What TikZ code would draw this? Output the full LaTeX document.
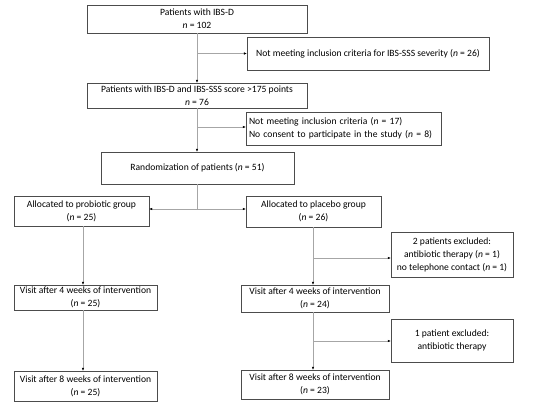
\documentclass[tikz,border=0pt]{standalone}
\usepackage{fontspec}
\setmainfont{Carlito}
\usetikzlibrary{arrows.meta, positioning}

\tikzset{
  box/.style={draw=black!70, thin, align=center, inner sep=2pt, font=\fontsize{9.6}{13}\selectfont},
  flow/.style={draw=black!35, thin},
  flowarrow/.style={flow, -{Latex[length=3pt, width=2.5pt, black]}}
}

\begin{document}
\begin{tikzpicture}[x=1pt, y=-1pt]
\useasboundingbox (0,0) rectangle (550,408);

% main column
\node[box, minimum width=220pt, minimum height=28pt] (all) at (197,19) {Patients with IBS-D\\\textit{n} = 102};
\node[box, minimum width=220pt, minimum height=25pt] (score) at (197,95.5) {Patients with IBS-D and IBS-SSS score {>}175 points\\\textit{n} = 76};
\node[box, minimum width=193pt, minimum height=32pt] (random) at (197.5,168) {Randomization of patients (\textit{n} = 51)};

% exclusions before randomization
\node[box, minimum width=242pt, minimum height=33pt] (exclA) at (368,53.5) {Not meeting inclusion criteria for IBS-SSS severity (\textit{n} = 26)};
\node[box, minimum width=195pt, minimum height=33pt, align=left, text width=189pt] (exclB) at (343.5,128.5) {Not meeting inclusion criteria (\textit{n} = 17)\\No consent to participate in the study (\textit{n} = 8)};

% probiotic arm
\node[box, minimum width=135pt, minimum height=30pt] (probio) at (81.5,211) {Allocated to probiotic group\\(\textit{n} = 25)};
\node[box, minimum width=143pt, minimum height=24pt] (probioA) at (85.5,297.5) {Visit after 4 weeks of intervention\\(\textit{n} = 25)};
\node[box, minimum width=143pt, minimum height=30pt] (probioB) at (85.5,386) {Visit after 8 weeks of intervention\\(\textit{n} = 25)};

% placebo arm
\node[box, minimum width=135pt, minimum height=31pt] (placebo) at (313.5,211.5) {Allocated to placebo group\\(\textit{n} = 26)};
\node[box, minimum width=148pt, minimum height=27pt] (placeboA) at (315,298.5) {Visit after 4 weeks of intervention\\(\textit{n} = 24)};
\node[box, minimum width=148pt, minimum height=29pt] (placeboB) at (315,384.5) {Visit after 8 weeks of intervention\\(\textit{n} = 23)};
\node[box, minimum width=122pt, minimum height=45pt] (exclC) at (452,254.5) {2 patients excluded:\\antibiotic therapy (\textit{n} = 1)\\no telephone contact (\textit{n} = 1)};
\node[box, minimum width=122pt, minimum height=43pt] (exclD) at (452,340.5) {1 patient excluded:\\antibiotic therapy};

% branch points
\coordinate (splitA) at (197,53.5);
\coordinate (splitB) at (197,127);
\coordinate (splitR) at (197,209);
\coordinate (splitC) at (313,258);
\coordinate (splitD) at (313,341);

\draw[flowarrow] (all.south) -- (score.north);
\draw[flowarrow] (splitA) -- (exclA.west);
\draw[flowarrow] (score.south) -- (random.north -| score.south);
\draw[flowarrow] (splitB) -- (splitB -| exclB.west);
\draw[flow] (random.south -| splitR) -- (splitR);
\draw[flowarrow] (splitR) -- (splitR -| probio.east);
\draw[flowarrow] (splitR) -- (splitR -| placebo.west);

\draw[flowarrow] (probio.south -| 83,0) -- (probioA.north -| 83,0);
\draw[flowarrow] (probioA.south -| 83,0) -- (probioB.north -| 83,0);

\draw[flowarrow] (placebo.south -| splitC) -- (placeboA.north -| splitC);
\draw[flowarrow] (splitC) -- (splitC -| exclC.west);
\draw[flowarrow] (placeboA.south -| splitD) -- (placeboB.north -| splitD);
\draw[flowarrow] (splitD) -- (splitD -| exclD.west);

\end{tikzpicture}
\end{document}
